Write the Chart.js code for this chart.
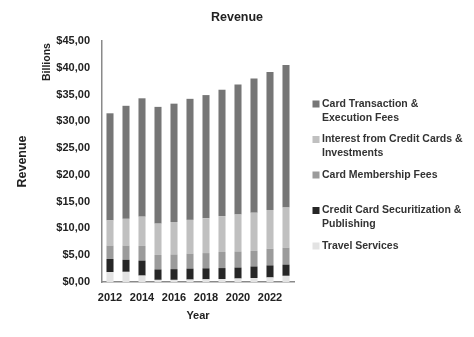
<!DOCTYPE html>
<html>
<head>
<meta charset="utf-8">
<script src="https://cdn.jsdelivr.net/npm/chart.js@4"></script>
<style>
  html, body { margin: 0; padding: 0; background: #fff; }
  #wrap { width: 474px; height: 337px; }
</style>
</head>
<body>
<div id="wrap"><canvas id="revenueChart"></canvas></div>
<script>
// Revenue by segment, billions of dollars
const years = ['2012', '2013', '2014', '2015', '2016', '2017', '2018', '2019', '2020', '2021', '2022', '2023'];
const travelServices = [1.85, 1.9, 1.2, 0.4, 0.4, 0.45, 0.5, 0.55, 0.65, 0.75, 0.85, 1.15];
const securitization = [2.45, 2.25, 2.8, 1.95, 2.0, 2.05, 2.05, 2.05, 2.05, 2.15, 2.25, 2.1];
const membershipFees = [2.5, 2.65, 2.75, 2.7, 2.75, 2.8, 2.85, 3.0, 3.0, 2.9, 3.1, 3.15];
const interestIncome = [4.7, 5.0, 5.45, 5.85, 6.05, 6.3, 6.5, 6.7, 6.9, 7.15, 7.25, 7.5];
const transactionFees = [20.0, 21.1, 22.1, 21.8, 22.1, 22.6, 23.0, 23.6, 24.3, 25.05, 25.75, 26.6];

const seriesNames = ['Travel Services', 'Credit Card Securitization & Publishing', 'Card Membership Fees',
  'Interest from Credit Cards & Investments', 'Card Transaction & Execution Fees'];
// legend text as it is wrapped in the picture, top to bottom
const legendLines = [
  ['Card Transaction &', 'Execution Fees'],
  ['Interest from Credit Cards &', 'Investments'],
  ['Card Membership Fees'],
  ['Credit Card Securitization &', 'Publishing'],
  ['Travel Services']
];
const yTicks = { min: 0, max: 45, step: 5 };

const FONT = "'Liberation Sans', Arial, sans-serif";
Chart.defaults.font.family = FONT;
Chart.defaults.color = '#333';

const colors = ['#e3e3e3', '#262626', '#9b9b9b', '#c0c0c0', '#767676'];
const values = [travelServices, securitization, membershipFees, interestIncome, transactionFees];

// title centred on the whole canvas, the "Billions" unit label and the legend on the right
const extras = {
  id: 'extras',
  afterDraw(chart) {
    const ctx = chart.ctx;
    ctx.save();
    ctx.fillStyle = '#222';
    ctx.font = 'bold 12.5px ' + FONT;
    ctx.textAlign = 'center';
    ctx.textBaseline = 'middle';
    ctx.fillText('Revenue', chart.width / 2, 18);

    ctx.font = 'bold 10.5px ' + FONT;
    ctx.translate(47, 62);
    ctx.rotate(-Math.PI / 2);
    ctx.fillText('Billions', 0, 0);
    ctx.restore();

    ctx.save();
    ctx.font = 'bold 10.5px ' + FONT;
    ctx.textAlign = 'left';
    ctx.textBaseline = 'middle';
    const ds = chart.data.datasets.slice().reverse();
    legendLines.forEach((lines, i) => {
      const y = 104 + i * 35.5;
      ctx.fillStyle = ds[i].backgroundColor;
      ctx.fillRect(312.5, y - 3.5, 7, 7);
      ctx.fillStyle = '#333';
      lines.forEach((t, j) => ctx.fillText(t, 322, y + j * 14));
    });
    ctx.restore();
  }
};

new Chart(document.getElementById('revenueChart'), {
  type: 'bar',
  data: {
    labels: years,
    datasets: seriesNames.map((name, i) => ({
      label: name,
      data: values[i],
      backgroundColor: colors[i],
      borderWidth: 0,
      barPercentage: 0.44,
      categoryPercentage: 1.0
    }))
  },
  options: {
    responsive: true,
    maintainAspectRatio: false,
    animation: false,
    devicePixelRatio: 1,
    layout: { padding: { top: 41, right: 180, bottom: 0, left: 0 } },
    plugins: {
      legend: { display: false },
      tooltip: { enabled: false },
      title: { display: false }
    },
    scales: {
      x: {
        stacked: true,
        grid: { display: false, drawTicks: false },
        border: { display: true, color: '#8a8a8a', width: 1.5 },
        ticks: {
          autoSkip: false,
          maxRotation: 0,
          padding: 9,
          color: '#222',
          font: { size: 11, weight: 'bold' },
          callback: (v, i) => (i % 2 === 0 ? years[i] : '')
        },
        title: {
          display: true,
          text: 'Year',
          color: '#222',
          font: { size: 11, weight: 'bold' },
          padding: { top: 0, bottom: 14 }
        },
        afterFit: s => { s.height = 55; }
      },
      y: {
        stacked: true,
        min: yTicks.min,
        max: yTicks.max,
        grid: { display: false, drawTicks: false },
        border: { display: true, color: '#8a8a8a', width: 1.5 },
        ticks: {
          stepSize: yTicks.step,
          padding: 12,
          color: '#222',
          font: { size: 11, weight: 'bold' },
          callback: v => '$' + v.toFixed(2).replace('.', ',')
        },
        title: {
          display: true,
          text: 'Revenue',
          color: '#222',
          font: { size: 12.5, weight: 'bold' },
          padding: { top: 15, bottom: 0 }
        },
        afterFit: s => { s.width = 102; }
      }
    }
  },
  plugins: [extras]
});
</script>
</body>
</html>
